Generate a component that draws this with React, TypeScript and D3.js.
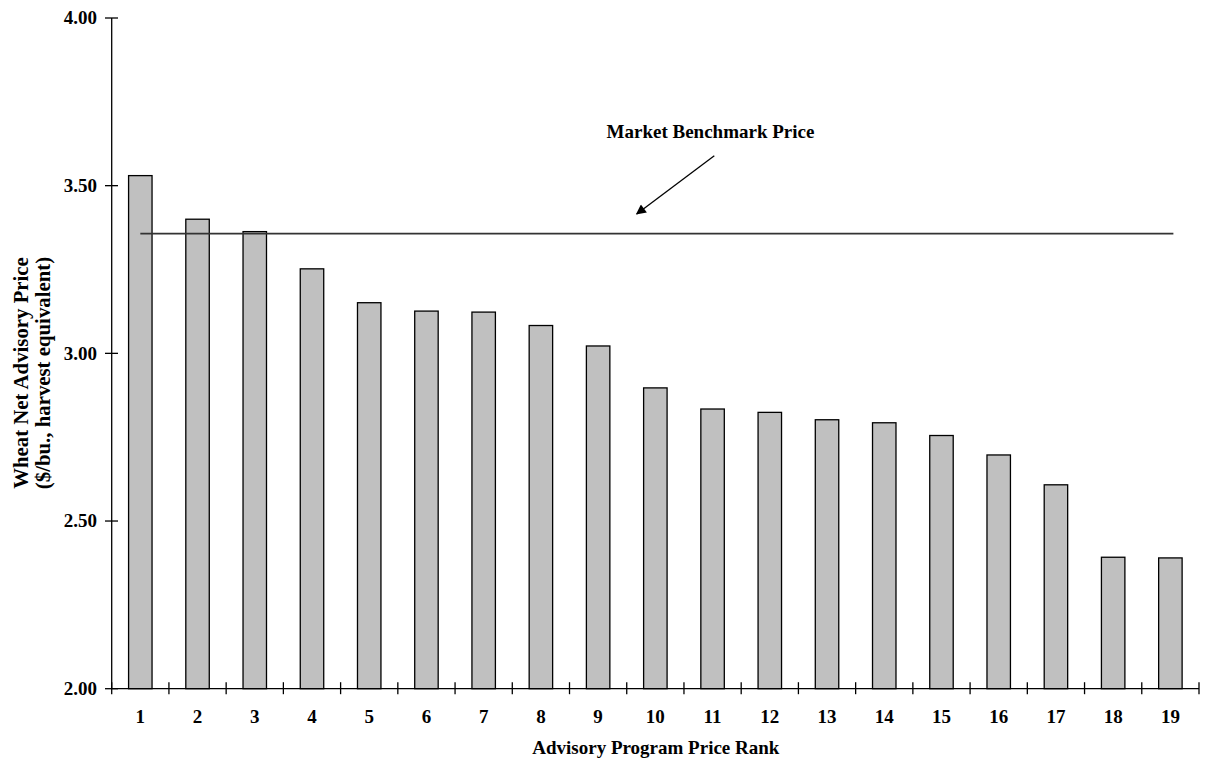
import React from "react";
import * as d3 from "d3";

const ranks: number[] = [1, 2, 3, 4, 5, 6, 7, 8, 9, 10, 11, 12, 13, 14, 15, 16, 17, 18, 19];
const prices: number[] = [3.53, 3.4, 3.363, 3.252, 3.151, 3.126, 3.123, 3.083, 3.022, 2.897, 2.834, 2.824, 2.802, 2.793, 2.755, 2.697, 2.608, 2.392, 2.39];
const benchmarkPrice = 3.357;
const yTicks: number[] = [2.0, 2.5, 3.0, 3.5, 4.0];
const yTitleLines: string[] = ["Wheat Net Advisory Price", "($/bu., harvest equivalent)"];
const xTitle = "Advisory Program Price Rank";
const annotation = "Market Benchmark Price";

const W = 1208;
const H = 761;
const left = 111.7;
const right = 1199;
const top = 18;
const bottom = 688.7;
const FONT = "'Liberation Serif', 'Times New Roman', Times, serif";

export default function App() {
  const x = d3
    .scaleBand<number>()
    .domain(ranks)
    .range([left, right])
    .paddingInner(0.59)
    .paddingOuter(0.295);
  const y = d3.scaleLinear().domain([2, 4]).range([bottom, top]);
  const step = x.step();
  const bw = x.bandwidth();
  const boundaries = d3.range(ranks.length + 1).map((i) => left + i * step);

  const lineY = y(benchmarkPrice);
  const lineX1 = (x(ranks[0]) as number) + bw / 2;
  const lineX2 = (x(ranks[ranks.length - 1]) as number) + bw / 2 + 3;

  const arrowStart: [number, number] = [714.3, 155.7];
  const arrowEnd: [number, number] = [636.7, 214];

  const yMid = 373;

  return (
    <svg
      width={W}
      height={H}
      style={{ position: "absolute", left: 0, top: 0, background: "#fff" }}
      fontFamily={FONT}
    >
      <defs>
        <marker
          id="arrowhead"
          viewBox="0 0 10 10"
          refX="9"
          refY="5"
          markerWidth="14"
          markerHeight="10"
          markerUnits="userSpaceOnUse"
          orient="auto"
        >
          <path d="M0,0 L10,5 L0,10 z" fill="#000" />
        </marker>
      </defs>

      {/* bars */}
      {ranks.map((r, i) => (
        <rect
          key={r}
          x={x(r)}
          y={y(prices[i])}
          width={bw}
          height={bottom - y(prices[i])}
          fill="#c0c0c0"
          stroke="#000"
          strokeWidth={1.3}
        />
      ))}

      {/* benchmark line */}
      <line x1={lineX1} x2={lineX2} y1={lineY} y2={lineY} stroke="#333" strokeWidth={1.6} />

      {/* axes */}
      <line x1={left} x2={left} y1={top} y2={bottom} stroke="#000" strokeWidth={1.3} />
      <line x1={left} x2={right} y1={bottom} y2={bottom} stroke="#000" strokeWidth={1.3} />

      {yTicks.map((t) => (
        <g key={t}>
          <line x1={105} x2={118} y1={y(t)} y2={y(t)} stroke="#000" strokeWidth={1.3} />
          <text
            x={97}
            y={y(t)}
            dy="0.34em"
            textAnchor="end"
            fontSize={19}
            fontWeight="bold"
          >
            {t.toFixed(2)}
          </text>
        </g>
      ))}

      {boundaries.map((bx, i) => (
        <line key={i} x1={bx} x2={bx} y1={bottom - 6.5} y2={bottom + 5.5} stroke="#000" strokeWidth={1.3} />
      ))}

      {ranks.map((r) => (
        <text
          key={r}
          x={(x(r) as number) + bw / 2}
          y={723}
          textAnchor="middle"
          fontSize={19}
          fontWeight="bold"
        >
          {r}
        </text>
      ))}

      <text x={(left + right) / 2 + 0.5} y={754} textAnchor="middle" fontSize={19} fontWeight="bold">
        {xTitle}
      </text>

      {/* y title */}
      {yTitleLines.map((l, i) => (
        <text
          key={i}
          transform={`translate(${27.5 + i * 22},${yMid}) rotate(-90)`}
          textAnchor="middle"
          fontSize={20.8}
          fontWeight="bold"
        >
          {l}
        </text>
      ))}

      {/* annotation */}
      <text x={710.5} y={138.3} textAnchor="middle" fontSize={19} fontWeight="bold">
        {annotation}
      </text>
      <line
        x1={arrowStart[0]}
        y1={arrowStart[1]}
        x2={arrowEnd[0]}
        y2={arrowEnd[1]}
        stroke="#000"
        strokeWidth={1.3}
        markerEnd="url(#arrowhead)"
      />
    </svg>
  );
}
